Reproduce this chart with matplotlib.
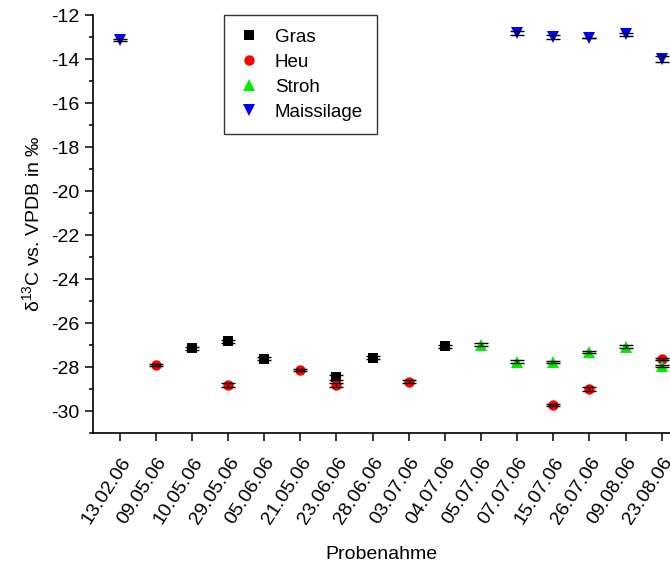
import matplotlib.pyplot as plt
import numpy as np
from matplotlib.ticker import MultipleLocator

plt.rcParams['font.family'] = ['Liberation Sans', 'DejaVu Sans']
plt.rcParams['axes.unicode_minus'] = False
plt.rcParams['mathtext.default'] = 'regular'

dates = ["13.02.06", "09.05.06", "10.05.06", "29.05.06", "05.06.06", "21.05.06",
         "23.06.06", "28.06.06", "03.07.06", "04.07.06", "05.07.06", "07.07.06",
         "15.07.06", "26.07.06", "09.08.06", "23.08.06"]

nan = np.nan
gras = [nan, nan, -27.15, -26.83, -27.62, nan, -28.47, -27.58, nan, -27.05,
        nan, nan, nan, nan, nan, nan]
gras_err = [0, 0, 0.08, 0.08, 0.08, 0, 0.1, 0.07, 0, 0.07, 0, 0, 0, 0, 0, 0]

heu = [nan, -27.92, nan, -28.82, nan, -28.13, -28.82, nan, -28.66, nan,
       nan, nan, -29.72, -29.0, nan, -27.65]
heu_err = [0, 0.04, 0, 0.1, 0, 0.05, 0.1, 0, 0.08, 0, 0, 0, 0.05, 0.08, 0, 0.05]

stroh = [nan, nan, nan, nan, nan, nan, nan, nan, nan, nan,
         -26.98, -27.75, -27.78, -27.32, -27.07, -27.95]
stroh_err = [0] * 10 + [0.05, 0.05, 0.05, 0.04, 0.05, 0.04]

mais = [-13.15, nan, nan, nan, nan, nan, nan, nan, nan, nan,
        nan, -12.82, -13.0, -13.05, -12.88, -14.0]
mais_err = [0.04, 0, 0, 0, 0, 0, 0, 0, 0, 0, 0, 0.08, 0.1, 0.0, 0.07, 0.14]

x = np.arange(len(dates))

fig = plt.figure(figsize=(6.7, 5.69), dpi=100)
ax = fig.add_axes([93 / 670, 1 - 433 / 569, 577 / 670, (433 - 15) / 569])

series = [
    ("Gras", gras, gras_err, 's', 'black', 7),
    ("Heu", heu, heu_err, 'o', 'red', 7.5),
    ("Stroh", stroh, stroh_err, '^', '#00ee00', 8),
    ("Maissilage", mais, mais_err, 'v', 'blue', 8),
]

handles = []
for name, vals, err, mk, col, ms in series:
    vals = np.array(vals, dtype=float)
    h, = ax.plot(x, vals, linestyle='none', marker=mk, color=col,
                 markersize=ms, markeredgewidth=0, label=name, zorder=2)
    handles.append(h)
    ax.errorbar(x, vals, yerr=err, fmt='none', ecolor='black', elinewidth=1,
                capsize=5, capthick=1, zorder=3)

ax.set_xlim(-0.736, 15.23)
ax.set_ylim(-31, -12)
ax.yaxis.set_major_locator(MultipleLocator(2))
ax.yaxis.set_minor_locator(MultipleLocator(1))
ax.set_xticks(x)
ax.set_xticklabels(dates, rotation=57, ha='right', rotation_mode='anchor')

for side in ['top', 'right']:
    ax.spines[side].set_visible(False)
for side in ['left', 'bottom']:
    ax.spines[side].set_linewidth(1.2)
ax.tick_params(axis='both', which='major', direction='out', length=6,
               width=1.1, labelsize=14)
ax.tick_params(axis='x', which='major', pad=9)
ax.tick_params(axis='y', which='minor', direction='out', length=3, width=1.1)

ax.set_ylabel("δ$^{13}$C vs. VPDB in ‰", fontsize=14, labelpad=6)
ax.set_xlabel("Probenahme", fontsize=14, labelpad=14)

leg = fig.legend(handles=handles, loc='upper left',
                 bbox_to_anchor=(224 / 670, 1 - 15 / 569),
                 bbox_transform=fig.transFigure, fontsize=13.5,
                 frameon=True, fancybox=False, borderpad=0.72,
                 labelspacing=0.42, handletextpad=0.8, handlelength=1.2,
                 borderaxespad=0, markerscale=1.0)
leg.get_frame().set_edgecolor('black')
leg.get_frame().set_linewidth(1.0)

fig.savefig("out.png", dpi=100)
